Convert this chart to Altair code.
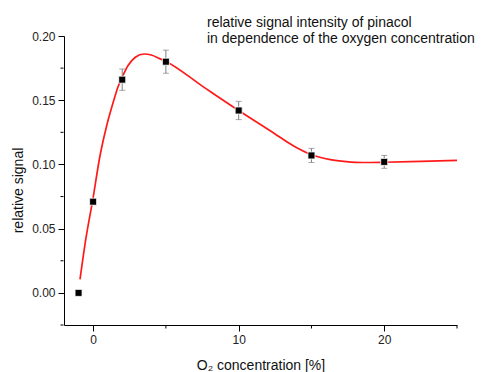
import altair as alt
import pandas as pd

# measured points
px = [-1, 0, 2, 5, 10, 15, 20]
py = [0.000, 0.071, 0.166, 0.180, 0.142, 0.107, 0.102]
perr = [0.0, 0.002, 0.0083, 0.009, 0.0071, 0.0055, 0.005]

# fitted curve
curve_x = [-0.9, -0.5, 0.0, 0.46, 0.92, 1.37, 1.72, 2.0, 2.4, 2.9, 3.5, 4.0, 4.6, 5.0,
           7.5, 10.0, 12.4, 13.75, 15.0, 16.3, 17.4, 18.5, 20.0, 22.5, 25.0]
curve_y = [0.0105, 0.042, 0.074, 0.106, 0.1296, 0.148, 0.1607, 0.168, 0.177, 0.1835,
           0.186, 0.1852, 0.1822, 0.1802, 0.161, 0.142, 0.1245, 0.1145, 0.1075, 0.1037,
           0.1022, 0.1015, 0.1017, 0.1024, 0.1031]

x_major = [0, 10, 20]
x_minor = [5, 15, 25]
y_major = [0.0, 0.05, 0.1, 0.15, 0.2]
y_minor = [-0.025, 0.025, 0.075, 0.125, 0.175]

title_lines = ["relative signal intensity of pinacol",
               "in dependence of the oxygen concentration"]
x_title = "O\u2082 concentration [%]"
y_title = "relative signal"

pts = pd.DataFrame({
    "x": px, "y": py,
    "lo": [a - b for a, b in zip(py, perr)],
    "hi": [a + b for a, b in zip(py, perr)],
})
curve = pd.DataFrame({"x": curve_x, "y": curve_y})

xscale = alt.Scale(domain=[-2, 25], nice=False, zero=False)
yscale = alt.Scale(domain=[-0.025, 0.2], nice=False, zero=False)

xaxis = alt.Axis(
    values=x_major, format="d", labelOverlap=False, tickSize=6,
    title=x_title, grid=False, domainColor="#000", tickColor="#000",
    labelFontSize=12, labelColor="#222", labelPadding=3,
    titleFontSize=14, titleFontWeight="normal", titleColor="#111",
    titleY=44, titleBaseline="alphabetic",
)
yaxis = alt.Axis(
    values=y_major, format=".2f", labelOverlap=False, tickSize=6,
    title=y_title, grid=False, domainColor="#000", tickColor="#000",
    labelFontSize=12, labelColor="#222", labelPadding=3,
    titleFontSize=14, titleFontWeight="normal", titleColor="#111",
    titleX=-42, titleY=154, titleBaseline="alphabetic",
)

line = alt.Chart(curve).mark_line(color="#ff1a1a", strokeWidth=1.7, interpolate="monotone").encode(
    x=alt.X("x:Q", scale=xscale, axis=xaxis),
    y=alt.Y("y:Q", scale=yscale, axis=yaxis),
)

# minor ticks (outside the plot area, positioned through the scales)
xminor = alt.Chart(pd.DataFrame({"v": x_minor})).mark_rule(color="#000", strokeWidth=1).encode(
    x="v:Q", y=alt.value(289.5), y2=alt.value(292.5)
)
yminor = alt.Chart(pd.DataFrame({"v": y_minor})).mark_rule(color="#000", strokeWidth=1).encode(
    y="v:Q", x=alt.value(-3.5), x2=alt.value(-0.5)
)

bars = alt.Chart(pts).mark_rule(color="#808080", strokeWidth=1).encode(
    x="x:Q", y="lo:Q", y2="hi:Q"
)
cap_lo = alt.Chart(pts).mark_tick(color="#808080", orient="horizontal", size=6, thickness=1).encode(
    x="x:Q", y="lo:Q"
)
cap_hi = alt.Chart(pts).mark_tick(color="#808080", orient="horizontal", size=6, thickness=1).encode(
    x="x:Q", y="hi:Q"
)
markers = alt.Chart(pts).mark_square(size=49, color="#000", opacity=1, filled=True,
                                      stroke="white", strokeWidth=0.8).encode(
    x="x:Q", y="y:Q"
)

title = alt.Chart(pd.DataFrame({"t": [0]})).mark_text(
    text=title_lines, align="left", baseline="alphabetic", fontSize=14,
    lineHeight=15.5, color="#111"
).encode(x=alt.value(143), y=alt.value(-9))

chart = alt.layer(line, xminor, yminor, bars, cap_lo, cap_hi, markers, title).properties(
    width=393, height=289,
    autosize=alt.AutoSizeParams(type="none"),
    padding={"left": 56, "top": 28, "right": 21, "bottom": 47},
).configure(font="Liberation Sans").configure_view(stroke=None)

chart.save("out.html", embed_options={"renderer": "svg", "actions": False})
